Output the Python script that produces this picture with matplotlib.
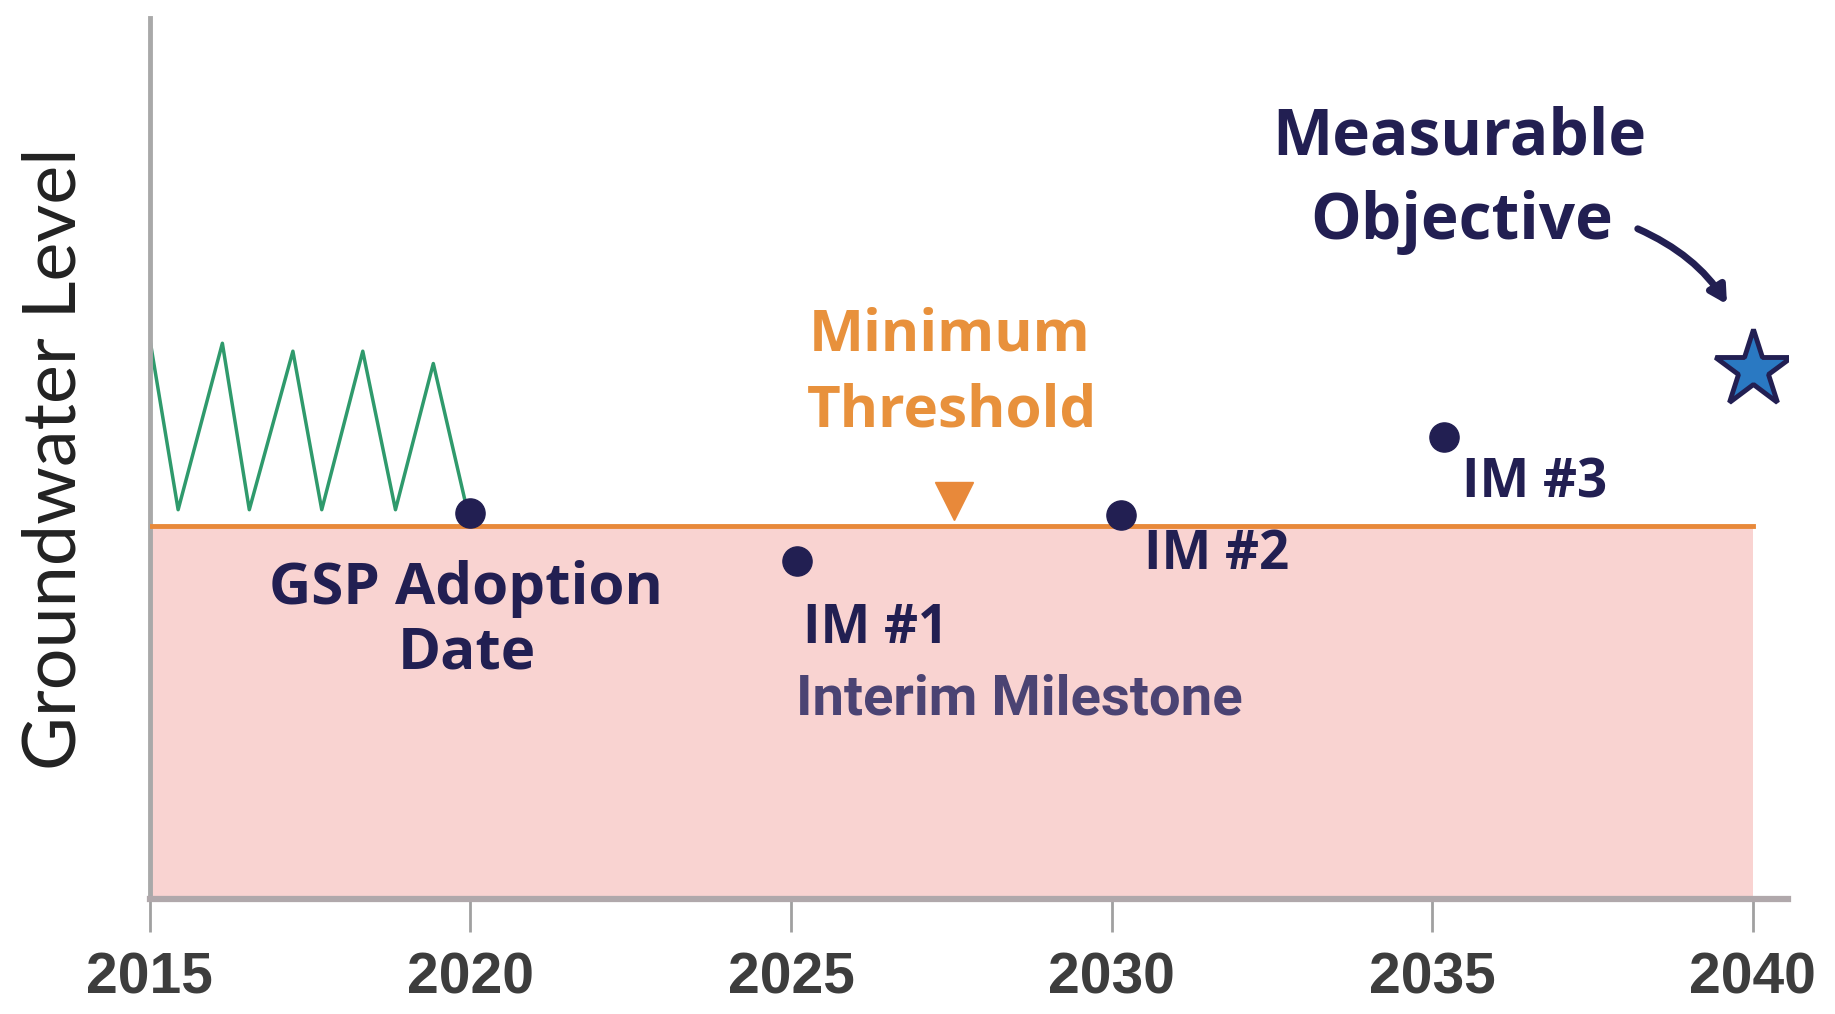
import matplotlib
matplotlib.use("Agg")
import matplotlib.pyplot as plt

# ---- data ----
zig_years = [2015.0, 2015.44, 2016.13, 2016.55, 2017.23, 2017.68, 2018.32, 2018.83, 2019.42, 2019.96]
zig_levels = [63.5, 44.2, 63.1, 44.2, 62.2, 44.2, 62.2, 44.2, 60.8, 43.8]
threshold_level = 42.4
threshold_start, threshold_end = 2015, 2040
milestone_years = [2020.0, 2025.09, 2030.15, 2035.18]
milestone_levels = [43.8, 38.4, 43.6, 52.5]
objective_year, objective_level = 2040.0, 60.2
marker_year, marker_level = 2027.54, 45.2
tick_years = [2015, 2020, 2025, 2030, 2035, 2040]
tick_labels = ["2015", "2020", "2025", "2030", "2035", "2040"]

NAVY = "#221f52"
ORANGE = "#e8893a"
BOLD = ["Open Sans", "DejaVu Sans"]

fig = plt.figure(figsize=(18.35, 10.14), dpi=100)
ax = fig.add_axes([0.0817, 0.1134, 0.9744 - 0.0817, 0.982 - 0.1134])
ax.set_xlim(2015, 2040.55)
ax.set_ylim(0, 100)

ax.fill_between([threshold_start, threshold_end], 0, threshold_level, color="#f9d3d1", lw=0, zorder=1)
ax.plot([threshold_start, threshold_end], [threshold_level, threshold_level], color=ORANGE, lw=3.5, zorder=3)
ax.plot(zig_years, zig_levels, color="#2f9a6c", lw=2.5, zorder=2)
ax.plot(milestone_years, milestone_levels, "o", color=NAVY, ms=21, zorder=5, ls="none")
ax.plot([objective_year], [objective_level], marker="*", ms=58, mfc="#2a79c2", mec=NAVY, mew=3.5, zorder=5, ls="none")
ax.plot([marker_year], [marker_level], marker="v", ms=28, color=ORANGE, zorder=5, ls="none")

for s in ["top", "right"]:
    ax.spines[s].set_visible(False)
ax.spines["left"].set_color("#a9a9a9")
ax.spines["left"].set_linewidth(3.5)
ax.spines["bottom"].set_color("#b0a8ab")
ax.spines["bottom"].set_linewidth(4.5)
ax.set_yticks([])
ax.set_xticks(tick_years)
ax.set_xticklabels(tick_labels, family=["Liberation Sans", "DejaVu Sans"], fontweight="bold",
                   fontsize=41, color="#3d3d3d")
ax.tick_params(axis="x", length=24, width=2, color="#a0a0a0", pad=14)
ax.set_ylabel("Groundwater Level", family=["Lato", "DejaVu Sans"], fontsize=53, color="#222222", labelpad=44)

def lab(txt, xy, off, color=NAVY, size=40, ha="center", fam=BOLD, weight="bold"):
    ax.annotate(txt, xy=xy, xytext=off, textcoords="offset pixels", ha=ha, va="center",
                fontsize=size, fontweight=weight, color=color, family=fam, zorder=6)

lab("GSP Adoption", (milestone_years[0], milestone_levels[0]), (-5, -76), size=42)
lab("Date", (milestone_years[0], milestone_levels[0]), (-4, -140), size=42)
lab("IM #1", (milestone_years[1], milestone_levels[1]), (6, -68), ha="left", size=38)
lab("Interim Milestone", (milestone_years[1], milestone_levels[1]), (-1, -139), ha="left",
    color="#4b4373", fam=["Roboto", "DejaVu Sans"], size=40.5)
lab("IM #2", (milestone_years[2], milestone_levels[2]), (23, -40), ha="left", size=38)
lab("IM #3", (milestone_years[3], milestone_levels[3]), (18, -47), ha="left", size=38)
lab("Minimum", (marker_year, marker_level), (-4, 165), color="#e8913c", size=42)
lab("Threshold", (marker_year, marker_level), (-2, 89), color="#e8913c", size=42)
lab("Measurable", (objective_year, objective_level), (-293, 231), size=46)
lab("Objective", (objective_year, objective_level), (-291, 146), size=46)

ax.annotate("", xy=(objective_year, objective_level), xycoords="data",
            xytext=(-115, 140), textcoords="offset pixels",
            arrowprops=dict(arrowstyle="-|>,head_length=1.0,head_width=0.55", color=NAVY, lw=5,
                            connectionstyle="arc3,rad=-0.25", shrinkA=0, shrinkB=50))

fig.savefig("out.png", dpi=100)
